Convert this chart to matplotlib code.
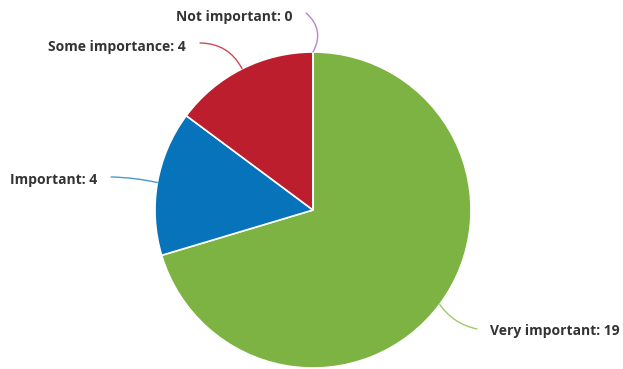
import matplotlib
matplotlib.use('Agg')
import matplotlib.pyplot as plt
import numpy as np

categories = ['Very important', 'Important', 'Some importance', 'Not important']
counts = [19, 4, 4, 0]
colors = ['#7cb342', '#0673bb', '#bd1e2d', '#a56cc1']
line_colors = ['#9ccc6a', '#4a9ad0', '#cc4a55', '#b884d4']

# label anchor (text) and connector end, in pie units (radius 1)
label_pos = [(1.12, -0.766), (-1.367, 0.19), (-0.804, 1.032), (-0.127, 1.222)]
conn_end = [(1.038, -0.753), (-1.278, 0.209), (-0.715, 1.057), (-0.044, 1.247)]
label_ha = ['left', 'right', 'right', 'right']
conn_rad = [-0.2, -0.05, -0.3, -0.4]

plt.rcParams['font.family'] = ['Open Sans', 'DejaVu Sans']

fig = plt.figure(figsize=(6.23, 3.69), dpi=100)
cx, cy, r = 313, 210, 158
W, H = 623, 369
ax = fig.add_axes([(cx - r) / W, (H - cy - r) / H, 2 * r / W, 2 * r / H])

wedges, _ = ax.pie(counts, colors=colors, startangle=90, counterclock=False,
                   radius=1, wedgeprops=dict(edgecolor='white', linewidth=1.2))
ax.set_xlim(-1, 1)
ax.set_ylim(-1, 1)
ax.axis('off')

total = sum(counts)
start = 90.0
for i, (name, val) in enumerate(zip(categories, counts)):
    sweep = 360.0 * val / total
    mid = np.deg2rad(start - sweep / 2)
    start -= sweep
    edge = (np.cos(mid), np.sin(mid))
    ax.annotate('', xy=edge, xytext=conn_end[i], annotation_clip=False,
                arrowprops=dict(arrowstyle='-', color=line_colors[i], lw=1.0,
                                shrinkA=0, shrinkB=0,
                                connectionstyle='arc3,rad=%s' % conn_rad[i]))
    ax.text(label_pos[i][0], label_pos[i][1], '%s: %d' % (name, val),
            ha=label_ha[i], va='center', fontsize=10, fontweight='bold',
            color='#333333', clip_on=False)

fig.savefig('out.png', dpi=100)
